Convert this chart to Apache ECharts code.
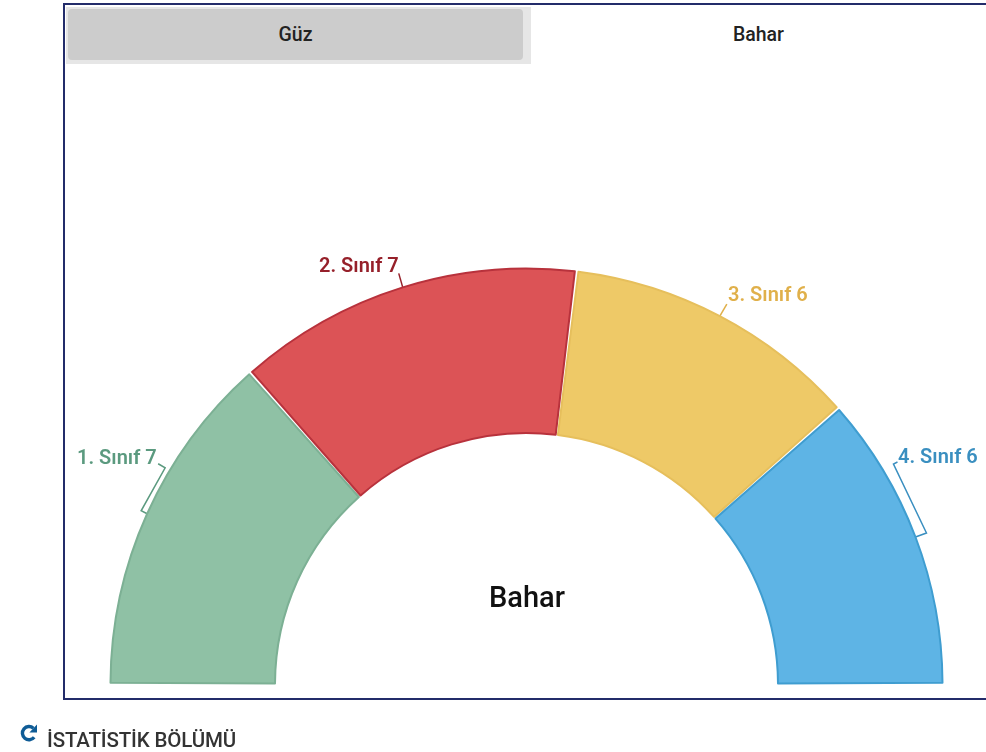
<!DOCTYPE html>
<html>
<head>
<meta charset="utf-8">
<title>İstatistik</title>
<script src="https://cdn.jsdelivr.net/npm/echarts@6/dist/echarts.min.js"></script>
<style>
html, body { margin: 0; padding: 0; background: #fff; width: 986px; height: 752px; overflow: hidden; font-family: Roboto, sans-serif; }
.panel { position: absolute; left: 63px; top: 3px; width: 930px; height: 693px; border: 2px solid #232c6a; box-sizing: content-box; }
.strip { position: absolute; left: 66px; top: 7px; width: 465px; height: 57px; background: #e6e6e6; }
.tab { position: absolute; font-size: 19.5px; font-weight: 500; color: #222; text-align: center; line-height: 51px; }
#tabGuz { left: 68px; top: 9px; width: 455px; height: 51px; background: #ccc; border-radius: 4px; }
#tabBahar { left: 531px; top: 8px; width: 455px; height: 52px; background: #fff; border-radius: 4px 4px 0 0; line-height: 53px; }
#chart { position: absolute; left: 0; top: 0; width: 986px; height: 752px; }
.footer { position: absolute; left: 47px; top: 729px; font-size: 20.5px; font-weight: 500; color: #333; line-height: 22px; white-space: nowrap; letter-spacing: -0.15px; }
.icon { position: absolute; left: 19px; top: 723px; }
</style>
</head>
<body>
<div class="panel"></div>
<div id="chart"></div>
<div class="strip"></div>
<div class="tab" id="tabGuz">Güz</div>
<div class="tab" id="tabBahar">Bahar</div>
<svg class="icon" width="20" height="20" viewBox="0 0 20 20">
	<path d="M15.2 14.2 A6.6 6.6 0 1 1 14.4 5.2" fill="none" stroke="#0f5c96" stroke-width="3.4"/>
	<path d="M18 1.6 L18 9.4 L10.4 9.4 Z" fill="#0f5c96"/>
</svg>
<div class="footer">İSTATİSTİK BÖLÜMÜ</div>
<script>
let categories = ["1. Sınıf", "2. Sınıf", "3. Sınıf", "4. Sınıf"];
let values = [7, 7, 6, 6];
let fillColors = ["#8fc1a5", "#dc5356", "#eec967", "#5eb4e5"];
let borderColors = ["#7cb094", "#b8323c", "#e6bf5c", "#3f9dd0"];
let labelColors = ["#5b9a7f", "#96202a", "#e0b04a", "#3a8fc0"];

// etiket konumlari: sol kenar, dikey orta
let labelPos = [[77, 459], [319, 267], [728, 296], [898, 458]];
// cizgi kirilmalari, dilim uzerindeki baslangic noktasina gore
let lineBends = [
	[[-6, -3], [18, -46], [11, -50]],
	[[-4, -14]],
	[[7, -12]],
	[[11, -4], [-22, -73], [-18, -75]]
];

let chart = echarts.init(document.getElementById("chart"));
chart.setOption({
	animation: false,
	title: {
		text: "Bahar",
		left: 522,
		top: 595,
		textAlign: "center",
		textVerticalAlign: "middle",
		textStyle: { fontFamily: "Roboto", fontSize: 29, fontWeight: 500, color: "#111" }
	},
	series: [{
		type: "pie",
		center: [526.5, 684.5],
		radius: [251.5, 416],
		startAngle: 180,
		endAngle: 0,
		padAngle: 0.5,
		silent: true,
		label: {
			formatter: "{b} {c}",
			fontFamily: "Roboto",
			fontSize: 20,
			fontWeight: 600,
			overflow: "none"
		},
		labelLine: { show: true, length: 10, length2: 10, smooth: false, lineStyle: { width: 1.5 } },
		labelLayout: function(params) {
			let pos = labelPos[params.dataIndex];
			let start = params.labelLinePoints[0];
			let points = [start];
			lineBends[params.dataIndex].forEach(function(b) {
				points.push([start[0] + b[0], start[1] + b[1]]);
			});
			if (points.length < 3) {
				points.push(points[1]);
			}
			return {
				x: pos[0],
				y: pos[1],
				align: "left",
				verticalAlign: "middle",
				labelLinePoints: points
			};
		},
		data: categories.map(function(name, i) {
			return {
				name: name,
				value: values[i],
				itemStyle: { color: fillColors[i], borderColor: borderColors[i], borderWidth: 2 },
				label: { color: labelColors[i] },
				labelLine: { lineStyle: { color: labelColors[i] } }
			};
		})
	}]
});
</script>
</body>
</html>
